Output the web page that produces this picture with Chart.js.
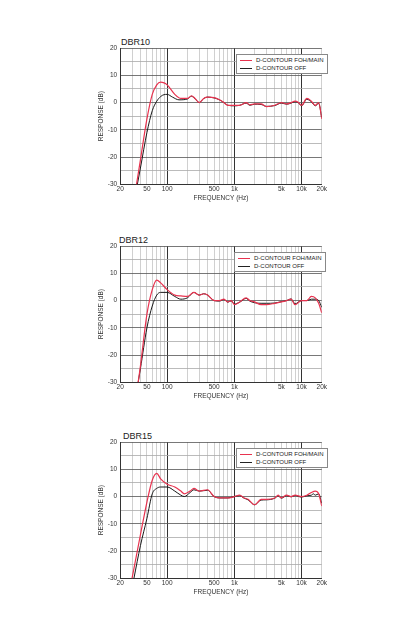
<!DOCTYPE html>
<html><head><meta charset="utf-8">
<script src="https://cdn.jsdelivr.net/npm/chart.js@4/dist/chart.umd.min.js"></script>
<style>
body{margin:0;background:#fff;width:420px;height:640px;position:relative;font-family:"Liberation Sans",Arial,sans-serif;overflow:hidden}
.wrap{position:absolute;left:97px;width:231px;height:161px}
.ttl{position:absolute;font-size:9px;color:#222}
.leg{position:absolute;background:#fff;border:1px solid #888;font-size:6px;color:#222;padding:1px 3px;line-height:8px}
.leg span{display:inline-block;width:12px;height:0;border-top:1px solid;vertical-align:middle;margin-right:4px}
</style></head><body>
<div class="ttl" style="left:121px;top:37px">DBR10</div>
<div class="ttl" style="left:119px;top:235px">DBR12</div>
<div class="ttl" style="left:123px;top:431px">DBR15</div>
<div class="wrap" style="top:41px"><canvas id="c1"></canvas></div>
<div class="wrap" style="top:239px"><canvas id="c2"></canvas></div>
<div class="wrap" style="top:435px"><canvas id="c3"></canvas></div>
<div class="leg" style="left:236px;top:54px"><div><span style="border-color:#e8334f"></span>D-CONTOUR FOH/MAIN</div><div><span style="border-color:#222"></span>D-CONTOUR OFF</div></div>
<div class="leg" style="left:234px;top:252px"><div><span style="border-color:#e8334f"></span>D-CONTOUR FOH/MAIN</div><div><span style="border-color:#222"></span>D-CONTOUR OFF</div></div>
<div class="leg" style="left:236px;top:448px"><div><span style="border-color:#e8334f"></span>D-CONTOUR FOH/MAIN</div><div><span style="border-color:#222"></span>D-CONTOUR OFF</div></div>
<script>
const xGridTicks=[20,30,40,50,60,70,80,90,100,200,300,400,500,600,700,800,900,1000,2000,3000,4000,5000,6000,7000,8000,9000,10000,20000];
const xTickLabels={20:"20",50:"50",100:"100",500:"500",1000:"1k",5000:"5k",10000:"10k",20000:"20k"};
const yTicks=[-30,-25,-20,-15,-10,-5,0,5,10,15,20];

const f1Red=[35,40,50,60,70,80,90,100,130,160,200,230,260,300,350,400,500,600,700,800,1000,1200,1500,1700,2000,2500,3000,4000,5000,6000,7000,8000,9000,10000,12000,14000,16000,18000,20000];
const v1Red=[-30,-21,-6,3,6.5,7.5,7.2,6.5,3,1.5,1.5,2.5,1.5,0,1.5,2,1.8,1,0,-1,-1,-1,0,-0.8,-0.5,-0.5,-1.5,-1,0,-0.5,0,0.5,0,-1,1.5,0.5,-1,0,-6];
const f1Off=[36,40,50,60,70,80,90,100,120,150,200,230,260,300,350,400,500,600,700,800,1000,1200,1500,1700,2000,2500,3000,4000,5000,6000,7000,8000,9000,10000,12000,14000,16000,18000,20000];
const v1Off=[-30,-24,-11,-3,0.5,2.2,2.9,3,2,1,1.3,2.3,1.4,0,1.5,2,1.7,1,0,-1,-1.2,-1,-0.2,-1,-0.6,-0.7,-1.4,-1.1,-0.2,-0.6,-0.2,0.3,-0.1,-1.2,1.2,0.3,-1.2,-0.3,-5.5];

const f2Red=[37,40,50,60,70,80,100,130,160,200,250,300,350,400,500,600,700,800,900,1000,1200,1500,1700,2000,2500,3000,4000,5000,6000,7000,8000,10000,12000,14000,16000,18000,20000];
const v2Red=[-30,-24,-5,4,7.5,6.5,4,2,1.7,1.5,3,2,2.5,2,0,0,0.5,-0.5,0,-1.5,-0.5,1,0,-0.5,-1.5,-1.5,-1,-0.5,0,0.5,-1.5,0,0,1.5,1,-1,-4.5];
const f2Off=[37,40,50,60,70,80,100,130,160,200,250,300,350,400,500,600,700,800,900,1000,1200,1500,1700,2000,2500,3000,4000,5000,6000,7000,8000,10000,12000,14000,16000,18000,20000];
const v2Off=[-30,-25,-10,-2,2,3,3,1.5,0.5,1,3,2,2.5,2,0,-0.2,0.4,-0.6,-0.1,-1.3,-0.6,0.8,-0.2,-0.8,-1,-1,-0.9,-0.4,0,0.6,-1.2,0,0,0.5,0.5,0,-2.5];

const f3Red=[30,40,50,60,70,80,100,130,160,180,220,250,300,400,500,600,800,1000,1200,1400,1600,2000,2500,3000,4000,4500,5000,6000,7000,8000,10000,12000,14000,16000,18000,20000];
const v3Red=[-30,-14,-2,6,8.5,6.5,4.5,3.5,2,1,2,3,2,2.5,0,-0.5,-0.5,0,0.5,-0.5,-1,-3,-1,-1,-0.5,0.5,-0.5,0.5,0,0.5,0,0.5,1.5,2,1,-3.5];
const f3Off=[32,40,50,60,70,80,100,130,160,180,220,250,300,400,500,600,800,1000,1200,1400,1600,2000,2500,3000,4000,4500,5000,6000,7000,8000,10000,12000,14000,15000,16000,18000,20000];
const v3Off=[-30,-18,-8,1,3,3.5,3.5,2,0.5,0,1.5,2.5,2,2.3,0,-0.5,-0.5,0,0.3,-0.6,-1.2,-3,-1.3,-1.2,-0.6,0.3,-0.6,0.3,-0.1,0.4,-0.2,0.3,0.5,1,0.5,1,-2.5];

const pts=(f,v)=>f.map((x,i)=>({x,y:v[i]}));
function make(id,fr,vr,fo,vo){
  new Chart(document.getElementById(id),{type:'line',
    data:{datasets:[
      {data:pts(fr,vr),borderColor:'#e8334f',borderWidth:1.2,pointRadius:0,tension:0.4,cubicInterpolationMode:'monotone'},
      {data:pts(fo,vo),borderColor:'#1a1a1a',borderWidth:1,pointRadius:0,tension:0.4,cubicInterpolationMode:'monotone'}]},
    options:{animation:false,responsive:true,maintainAspectRatio:false,
      layout:{padding:{right:6,top:7}},
      plugins:{legend:{display:false},tooltip:{enabled:false}},
      scales:{
        x:{type:'logarithmic',min:20,max:20000,
          afterBuildTicks:s=>{s.ticks=xGridTicks.map(v=>({value:v}));},
          ticks:{autoSkip:false,maxRotation:0,font:{size:6.5},color:'#333',padding:1,callback:v=>xTickLabels[v]||''},
          grid:{color:c=>{const v=c.tick&&c.tick.value;return [100,1000,10000].includes(v)?'#333':'#c4c4c4';},lineWidth:c=>{const v=c.tick&&c.tick.value;return [100,1000,10000].includes(v)?1:0.8;},drawTicks:false},
          border:{color:'#333'},
          title:{display:true,text:'FREQUENCY (Hz)',font:{size:6.5},color:'#333',padding:0}},
        y:{min:-30,max:20,
          afterBuildTicks:s=>{s.ticks=yTicks.map(v=>({value:v}));},
          ticks:{font:{size:6.5},color:'#333',padding:3,callback:v=>v%10===0?v:''},
          grid:{color:c=>c.tick&&c.tick.value%10===0?'#555':'#aaa',lineWidth:0.8,drawTicks:false},
          border:{color:'#333'},
          title:{display:true,text:'RESPONSE (dB)',font:{size:6.5},color:'#333',padding:0}}}}});
}
make('c1',f1Red,v1Red,f1Off,v1Off);
make('c2',f2Red,v2Red,f2Off,v2Off);
make('c3',f3Red,v3Red,f3Off,v3Off);
</script></body></html>
